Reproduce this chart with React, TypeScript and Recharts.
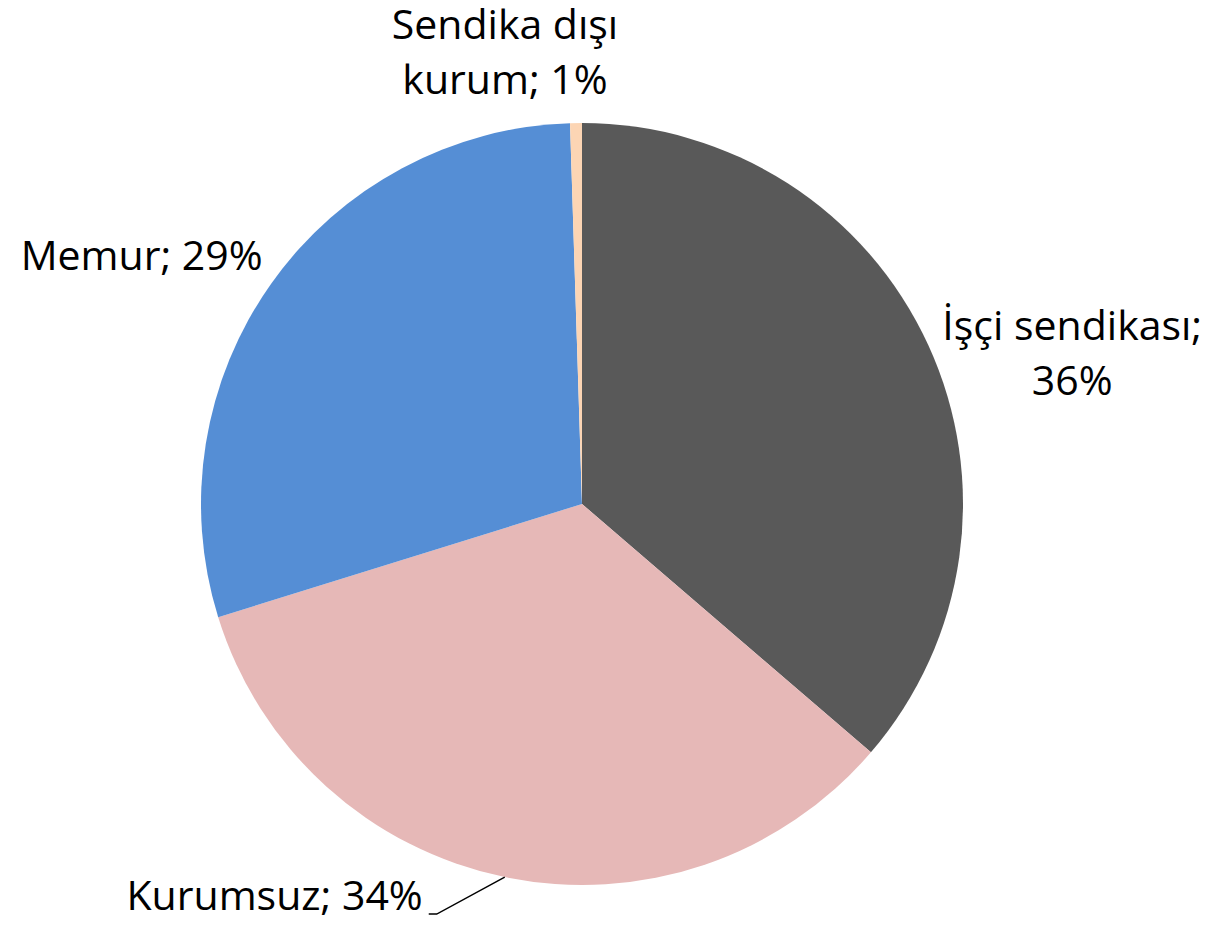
import React from 'react';
import { PieChart, Pie, Cell } from 'recharts';

const categories = ['İşçi sendikası', 'Kurumsuz', 'Memur', 'Sendika dışı kurum'];
const values = [36.3, 33.9, 29.3, 0.5];
const colors = ['#595959', '#E6B8B7', '#558ED5', '#FCD5B4'];

const data = categories.map((name, i) => ({ name, value: values[i] }));
const total = values.reduce((a, b) => a + b, 0);

// label layout relative to the slice's outer edge point at its mid-angle
const labelLayout = [
  { dx: 144, dy: -5, anchor: 'middle', breakAfter: 2, leader: null },
  { dx: -82, dy: 33, anchor: 'end', breakAfter: 0, leader: [[-68, 37], [-76, 37]] },
  { dx: -9, dy: -13, anchor: 'end', breakAfter: 0, leader: null },
  { dx: -71, dy: -84, anchor: 'middle', breakAfter: 2, leader: null },
];

const FONT = '"Open Sans", sans-serif';
const FONT_SIZE = 41;
const LINE_H = 55;

const RAD = Math.PI / 180;

const renderLabel = (props: any) => {
  const { cx, cy, midAngle, outerRadius, index, name, value } = props;
  const ex = cx + outerRadius * Math.cos(-midAngle * RAD);
  const ey = cy + outerRadius * Math.sin(-midAngle * RAD);
  const l = labelLayout[index];
  const pct = Math.round((value / total) * 100);
  const full = `${name}; ${pct}%`;
  const words = full.split(' ');
  const lines = l.breakAfter > 0
    ? [words.slice(0, l.breakAfter).join(' '), words.slice(l.breakAfter).join(' ')]
    : [full];
  const tx = ex + l.dx;
  const ty = ey + l.dy;
  return (
    <g key={`lbl-${index}`}>
      {l.leader && (
        <polyline
          points={[[0, 0], ...l.leader].map(([x, y]) => `${ex + x},${ey + y}`).join(' ')}
          fill="none"
          stroke="#000"
          strokeWidth={1.5}
        />
      )}
      <text x={tx} y={ty} textAnchor={l.anchor} fontFamily={FONT} fontSize={FONT_SIZE} fill="#000">
        {lines.map((ln, i) => (
          <tspan key={i} x={tx} dy={i === 0 ? 0 : LINE_H}>{ln}</tspan>
        ))}
      </text>
    </g>
  );
};

export default function App() {
  return (
    <div style={{ position: 'absolute', left: 0, top: 0, width: 1213, height: 927, background: '#fff' }}>
      <PieChart width={1213} height={927} margin={{ top: 0, right: 0, bottom: 0, left: 0 }}>
        <Pie
          data={data}
          dataKey="value"
          nameKey="name"
          cx={582}
          cy={504}
          outerRadius={381}
          startAngle={90}
          endAngle={-270}
          stroke="none"
          label={renderLabel}
          labelLine={false}
          isAnimationActive={false}
        >
          {data.map((d, i) => (
            <Cell key={d.name} fill={colors[i]} />
          ))}
        </Pie>
      </PieChart>
    </div>
  );
}
